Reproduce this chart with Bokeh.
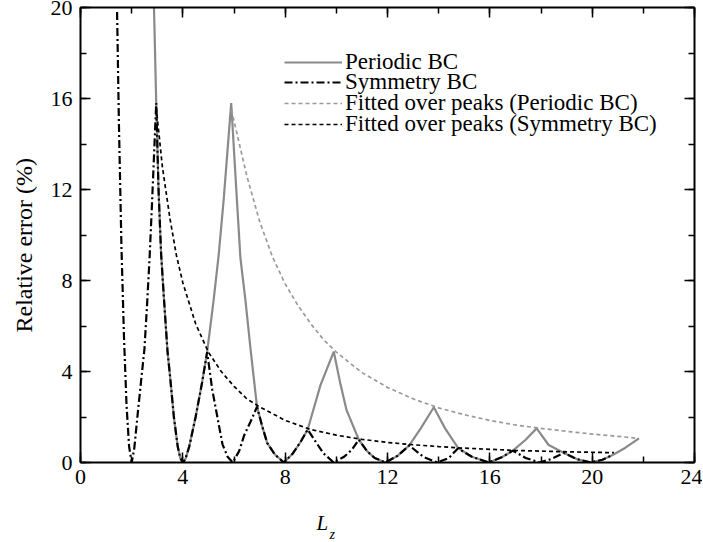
from bokeh.plotting import figure
from bokeh.models import (Range1d, LinearAxis, SingleIntervalTicker, Legend,
                          LegendItem, Title)
from bokeh.embed import file_html
from bokeh.resources import INLINE

# ---------------- data ----------------
periodic_lz = [2.8, 2.96, 3.05, 3.15, 3.25, 3.4, 3.5, 3.65, 3.8, 3.9,
               4.0, 4.1, 4.25, 4.5, 4.75, 4.95, 5.2, 5.4, 5.6, 5.89,
               6.1, 6.25, 6.45, 6.65, 6.9, 7.1, 7.3, 7.6, 7.95, 8.3,
               8.6, 8.88, 9.38, 9.9, 10.15, 10.4, 10.88, 11.2, 11.5, 11.92,
               12.4, 12.85, 13.3, 13.81, 14.25, 14.75, 15.3, 15.96, 16.5, 16.9,
               17.4, 17.83, 18.3, 18.9, 19.4, 19.94, 20.4, 20.8, 21.3, 21.83]
periodic_err = [23.5, 15.8, 12.0, 9.2, 7.4, 4.9, 3.8, 2.0, 0.7, 0.2,
                0.0, 0.15, 0.7, 2.0, 3.5, 4.85, 7.1, 9.1, 11.6, 15.8,
                11.8, 9.0, 7.1, 4.95, 2.45, 1.6, 0.85, 0.35, 0.0, 0.4,
                0.9, 1.45, 3.4, 4.87, 3.5, 2.3, 1.0, 0.5, 0.2, 0.0,
                0.3, 0.75, 1.5, 2.43, 1.5, 0.65, 0.25, 0.0, 0.25, 0.52,
                1.0, 1.5, 0.77, 0.42, 0.15, 0.0, 0.12, 0.33, 0.65, 1.06]

symmetry_lz = [1.43, 1.5, 1.6, 1.7, 1.8, 1.9, 2.0, 2.1, 2.25, 2.5,
               2.6, 2.7, 2.8, 2.9, 2.96, 3.05, 3.15, 3.25, 3.4, 3.5,
               3.65, 3.8, 3.9, 4.0, 4.1, 4.25, 4.5, 4.75, 4.95, 5.15,
               5.35, 5.55, 5.75, 5.95, 6.2, 6.4, 6.65, 6.9, 7.1, 7.3,
               7.6, 7.95, 8.3, 8.6, 8.88, 9.2, 9.5, 9.9, 10.3, 10.6,
               10.88, 11.2, 11.5, 11.92, 12.4, 12.85, 13.4, 13.94, 14.4, 14.75,
               15.3, 15.96, 16.5, 16.9, 17.4, 17.94, 18.4, 18.9, 19.4, 19.94,
               20.4, 20.8]
symmetry_err = [19.8, 15.0, 9.5, 5.5, 2.5, 0.7, 0.0, 0.6, 2.3, 5.0,
                6.9, 9.0, 11.5, 14.2, 15.8, 12.0, 9.2, 7.4, 4.9, 3.8,
                2.0, 0.7, 0.2, 0.0, 0.15, 0.7, 2.0, 3.5, 4.85, 3.2,
                2.0, 0.8, 0.25, 0.0, 0.5, 1.2, 1.8, 2.45, 1.6, 0.85,
                0.35, 0.0, 0.4, 0.9, 1.45, 0.9, 0.4, 0.0, 0.25, 0.55,
                1.0, 0.5, 0.2, 0.0, 0.3, 0.75, 0.25, 0.0, 0.2, 0.62,
                0.25, 0.0, 0.25, 0.52, 0.2, 0.0, 0.15, 0.42, 0.15, 0.0,
                0.12, 0.33]

fit_periodic_lz = [5.9, 6.5, 7.0, 7.5, 8.0, 8.5, 9.0, 9.5, 10.0, 11.0, 12.0,
                   13.0, 14.0, 15.0, 16.0, 17.0, 18.0, 19.0, 20.0, 21.0, 21.8]
fit_periodic_err = [15.5, 12.6, 10.6, 9.05, 7.85, 6.9, 6.1, 5.4, 4.85, 3.95, 3.3,
                    2.8, 2.4, 2.1, 1.85, 1.65, 1.5, 1.37, 1.25, 1.15, 1.06]

fit_symmetry_lz = [2.96, 3.2, 3.5, 3.75, 4.0, 4.5, 5.0, 5.5, 6.0, 6.5,
                   7.0, 8.0, 9.0, 10.0, 11.0, 12.0, 13.0, 14.0, 15.0, 16.0,
                   17.0, 18.0, 19.0, 20.0, 20.85]
fit_symmetry_err = [15.6, 13.0, 10.7, 9.1, 7.9, 6.1, 4.85, 4.0, 3.35, 2.8,
                    2.45, 1.85, 1.45, 1.2, 1.02, 0.88, 0.78, 0.7, 0.63, 0.58,
                    0.53, 0.5, 0.47, 0.45, 0.43]

series_labels = ["Periodic BC", "Symmetry BC",
                 "Fitted over peaks (Periodic BC)",
                 "Fitted over peaks (Symmetry BC)"]
y_axis_title = "Relative error (%)"
x_axis_title_main = "L"
x_axis_title_sub = "z"

FONT = "Liberation Serif"

# ---------------- figure ----------------
p = figure(frame_width=614, frame_height=455,
           x_range=Range1d(0, 24), y_range=Range1d(0, 20),
           x_axis_location=None, y_axis_location=None,
           min_border_left=80, min_border_right=8,
           min_border_top=7, min_border_bottom=79,
           output_backend="svg", toolbar_location=None)
p.outline_line_color = None
p.xgrid.visible = False
p.ygrid.visible = False
p.background_fill_color = "white"
p.border_fill_color = "white"


def make_axis(side, show_labels):
    ax = LinearAxis(ticker=SingleIntervalTicker(interval=4, num_minor_ticks=2))
    ax.axis_line_width = 2
    ax.axis_line_color = "black"
    ax.major_tick_in = 10
    ax.major_tick_out = 0
    ax.minor_tick_in = 6
    ax.minor_tick_out = 0
    ax.major_tick_line_width = 1.5
    ax.minor_tick_line_width = 1.5
    ax.major_tick_line_color = "black"
    ax.minor_tick_line_color = "black"
    if show_labels:
        ax.major_label_text_font = FONT
        ax.major_label_text_font_size = "22px"
        ax.major_label_text_color = "black"
        ax.major_label_standoff = 7 if side == "below" else 8
    else:
        ax.major_label_text_font_size = "0px"
        ax.major_label_standoff = 0
    return ax


p.add_layout(make_axis("below", True), "below")
p.add_layout(make_axis("left", True), "left")
p.add_layout(make_axis("above", False), "above")
p.add_layout(make_axis("right", False), "right")

r_per = p.line(periodic_lz, periodic_err, line_color="#8a8a8a", line_width=2.2)
r_sym = p.line(symmetry_lz, symmetry_err, line_color="black", line_width=2.2,
               line_dash="8 3 2 3")
r_fp = p.line(fit_periodic_lz, fit_periodic_err, line_color="#9a9a9a",
              line_width=1.7, line_dash="4 3")
r_fs = p.line(fit_symmetry_lz, fit_symmetry_err, line_color="black",
              line_width=1.7, line_dash="4 3")

# one legend per row for exact row spacing
row_centers = [62.2, 82.8, 103.5, 124.3]
for lab, rend, yc in zip(series_labels, [r_per, r_sym, r_fp, r_fs], row_centers):
    leg = Legend(items=[LegendItem(label=lab, renderers=[rend])],
                 location=(204, 462.5 - (yc + 13)),
                 glyph_width=58, glyph_height=20, label_height=20,
                 label_standoff=3, padding=0, margin=0, spacing=0,
                 border_line_color=None, background_fill_alpha=0,
                 label_text_font=FONT, label_text_font_size="23px",
                 label_text_color="black")
    p.add_layout(leg)

# axis titles as side titles (with offsets)
p.add_layout(Title(text=y_axis_title, align="left", offset=130, standoff=18,
                   vertical_align="top",
                   text_font=FONT, text_font_size="24px",
                   text_font_style="normal", text_color="black"), "left")
p.add_layout(Title(text=x_axis_title_main, align="left", offset=236, standoff=44,
                   vertical_align="bottom",
                   text_font=FONT, text_font_size="21px",
                   text_font_style="italic", text_color="black"), "below")
p.add_layout(Title(text=x_axis_title_sub, align="left", offset=249, standoff=-60,
                   vertical_align="top",
                   text_font=FONT, text_font_size="14px",
                   text_font_style="italic", text_color="black"), "below")

open("out.html", "w").write(file_html(p, INLINE))
